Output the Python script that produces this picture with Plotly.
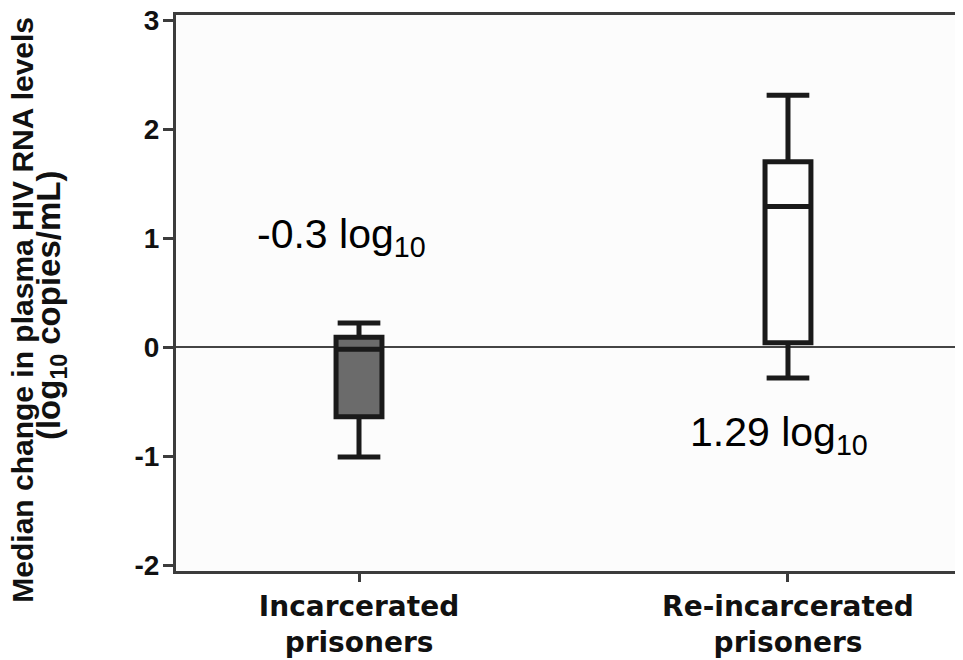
import plotly.graph_objects as go

# ---- data ----
categories = ["Incarcerated<br>prisoners", "Re-incarcerated<br>prisoners"]
positions = [0, 1]
q1 = [-0.64, 0.04]
median = [-0.02, 1.29]
q3 = [0.09, 1.70]
lower_whisker = [-1.01, -0.285]
upper_whisker = [0.22, 2.31]
box_fill = ["#6b6b6b", "#fdfdfd"]
median_labels = ["-0.3 log<sub>10</sub>", "1.29 log<sub>10</sub>"]
label_x = [-0.04, 0.979]
label_y = [1.01, -0.81]
y_ticks = [-2, -1, 0, 1, 2, 3]
y_ticktext = ["-2", "-1", "0", "1", "2", "3"]

fig = go.Figure()
for i in range(len(categories)):
    fig.add_trace(go.Box(
        x=[positions[i]],
        q1=[q1[i]], median=[median[i]], q3=[q3[i]],
        lowerfence=[lower_whisker[i]], upperfence=[upper_whisker[i]],
        width=0.107, whiskerwidth=0.93,
        fillcolor=box_fill[i],
        line=dict(color="#1a1a1a", width=5),
        boxpoints=False, showlegend=False, hoverinfo="skip",
    ))

for t, x, y in zip(median_labels, label_x, label_y):
    fig.add_annotation(x=x, y=y, text=t, showarrow=False, xref="x", yref="y",
                       xanchor="center", yanchor="middle",
                       font=dict(family="Liberation Sans, Arial", size=41, color="#000"))

# y-axis title as two rotated lines
fig.add_annotation(xref="paper", yref="paper", x=-0.1944, y=0.47, xanchor="center", yanchor="middle",
                   text="<b>Median change in plasma HIV RNA levels</b>", textangle=-90, showarrow=False,
                   font=dict(family="Liberation Sans, Arial", size=30, color="#111"))
fig.add_annotation(xref="paper", yref="paper", x=-0.159, y=0.478, xanchor="center", yanchor="middle",
                   text="<b>(log<sub>10</sub> copies/mL)</b>", textangle=-90, showarrow=False,
                   font=dict(family="Liberation Sans, Arial", size=33, color="#111"))

fig.update_layout(
    width=955, height=652,
    margin=dict(l=168, r=0, t=7, b=89),
    paper_bgcolor="#ffffff", plot_bgcolor="#fcfcfc",
    xaxis=dict(range=[-0.4266, 1.408], tickvals=positions, ticktext=categories,
               automargin=False,
               showline=True, linecolor="#3c3c3c", linewidth=3, mirror=True,
               ticks="outside", ticklen=8, tickwidth=3, tickcolor="#3c3c3c",
               showgrid=False, zeroline=False,
               tickfont=dict(family="DejaVu Sans", size=28, color="#111", weight="bold")),
    yaxis=dict(range=[-2.055, 3.046], tickvals=y_ticks, ticktext=y_ticktext,
               automargin=False, ticklabeloverflow="allow",
               showline=True, linecolor="#3c3c3c", linewidth=3,
               ticks="outside", ticklen=10, tickwidth=3, tickcolor="#3c3c3c",
               showgrid=False, zeroline=True, zerolinecolor="#444", zerolinewidth=2,
               ticklabelstandoff=-2,
               tickfont=dict(family="Liberation Sans, Arial", size=28, color="#111", weight="bold")),
)

fig.write_html("out.html")
